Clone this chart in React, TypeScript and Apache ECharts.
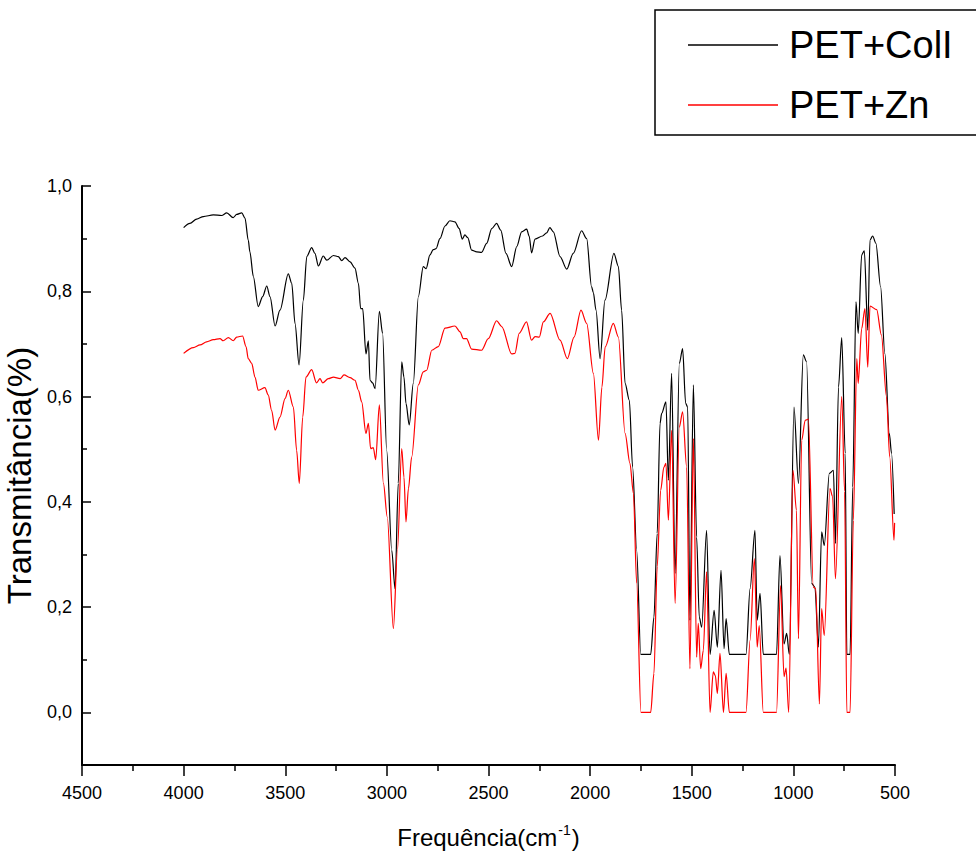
import React, { useEffect, useRef } from "react";
import * as echarts from "echarts";

// Wavenumber (cm-1) and transmittance
const collWavenumber = [
  4000, 3969, 3936, 3903, 3854, 3813, 3788, 3756, 3739, 3714, 3698, 3682, 3674, 3657, 3633, 3611, 3591, 3575,
  3550, 3526, 3485, 3468, 3452, 3432, 3411, 3394, 3370, 3354, 3337, 3313, 3296, 3263, 3239, 3222, 3206, 3181,
  3157, 3140, 3129, 3119, 3103, 3091, 3083, 3070, 3058, 3037, 3021, 3001, 2976, 2960, 2944, 2927, 2916, 2906,
  2890, 2870, 2845, 2821, 2807, 2788, 2772, 2758, 2739, 2714, 2690, 2665, 2644, 2629, 2616, 2602, 2583, 2558,
  2534, 2509, 2484, 2460, 2440, 2414, 2386, 2361, 2337, 2312, 2300, 2288, 2271, 2234, 2214, 2198, 2181, 2148,
  2115, 2083, 2042, 2017, 1993, 1984, 1971, 1951, 1927, 1883, 1861, 1845, 1828, 1807, 1791, 1771, 1751, 1702,
  1686, 1670, 1656, 1648, 1627, 1615, 1599, 1582, 1561, 1545, 1530, 1520, 1509, 1492, 1476, 1463, 1451, 1427,
  1410, 1390, 1374, 1356, 1341, 1331, 1315, 1233, 1213, 1189, 1178, 1164, 1148, 1083, 1066, 1046, 1033, 1020,
  997, 975, 951, 935, 910, 894, 877, 861, 848, 823, 803, 793, 778, 762, 745, 737, 721, 708, 692, 681, 664, 651,
  634, 623, 610, 594, 571, 550, 528, 517, 504,
];
const collTransmittance = [
  0.921, 0.929, 0.937, 0.942, 0.945, 0.944, 0.949, 0.94, 0.946, 0.949, 0.939, 0.897, 0.875, 0.828, 0.771, 0.79,
  0.81, 0.79, 0.734, 0.764, 0.833, 0.815, 0.739, 0.66, 0.783, 0.866, 0.883, 0.872, 0.848, 0.867, 0.859, 0.868,
  0.866, 0.858, 0.864, 0.856, 0.844, 0.815, 0.767, 0.767, 0.681, 0.706, 0.631, 0.626, 0.615, 0.762, 0.72, 0.498,
  0.308, 0.235, 0.435, 0.666, 0.637, 0.587, 0.546, 0.625, 0.79, 0.847, 0.843, 0.869, 0.879, 0.881, 0.9, 0.924,
  0.934, 0.932, 0.919, 0.899, 0.907, 0.902, 0.878, 0.875, 0.874, 0.891, 0.919, 0.929, 0.916, 0.872, 0.847, 0.885,
  0.913, 0.918, 0.905, 0.873, 0.899, 0.905, 0.911, 0.921, 0.913, 0.866, 0.842, 0.872, 0.915, 0.9, 0.809, 0.797,
  0.764, 0.672, 0.783, 0.872, 0.847, 0.764, 0.625, 0.593, 0.466, 0.308, 0.11, 0.11, 0.181, 0.34, 0.549, 0.568,
  0.59, 0.441, 0.644, 0.264, 0.663, 0.691, 0.587, 0.58, 0.175, 0.622, 0.333, 0.181, 0.162, 0.346, 0.11, 0.194,
  0.124, 0.27, 0.121, 0.178, 0.11, 0.11, 0.235, 0.346, 0.175, 0.226, 0.11, 0.11, 0.298, 0.13, 0.15, 0.11, 0.58,
  0.435, 0.679, 0.666, 0.245, 0.238, 0.124, 0.343, 0.317, 0.454, 0.46, 0.321, 0.618, 0.712, 0.492, 0.11, 0.11,
  0.428, 0.78, 0.72, 0.869, 0.877, 0.726, 0.897, 0.905, 0.891, 0.809, 0.682, 0.53, 0.492, 0.377,
];

const znWavenumber = [
  4000, 3952, 3919, 3887, 3854, 3821, 3805, 3780, 3756, 3739, 3710, 3693, 3682, 3665, 3649, 3633, 3600, 3584,
  3567, 3550, 3526, 3501, 3485, 3460, 3444, 3431, 3414, 3398, 3370, 3346, 3329, 3316, 3288, 3263, 3230, 3211,
  3181, 3157, 3140, 3124, 3103, 3091, 3080, 3067, 3055, 3037, 3017, 2998, 2968, 2948, 2927, 2916, 2906, 2894,
  2878, 2845, 2821, 2804, 2779, 2747, 2714, 2665, 2640, 2624, 2608, 2583, 2534, 2501, 2460, 2435, 2386, 2370,
  2349, 2313, 2288, 2271, 2250, 2230, 2197, 2148, 2112, 2079, 2045, 2017, 1984, 1959, 1942, 1926, 1886, 1861,
  1828, 1804, 1787, 1771, 1750, 1702, 1686, 1670, 1653, 1637, 1627, 1615, 1599, 1582, 1561, 1545, 1525, 1509,
  1492, 1476, 1468, 1456, 1443, 1427, 1410, 1394, 1384, 1374, 1361, 1344, 1331, 1315, 1233, 1213, 1192, 1178,
  1168, 1148, 1083, 1063, 1046, 1036, 1023, 1002, 985, 975, 959, 942, 926, 902, 890, 872, 861, 848, 820, 807,
  793, 762, 748, 737, 721, 705, 688, 681, 664, 648, 634, 623, 590, 567, 542, 526, 505, 502,
];
const znTransmittance = [
  0.682, 0.693, 0.698, 0.704, 0.708, 0.71, 0.706, 0.712, 0.706, 0.713, 0.715, 0.695, 0.672, 0.663, 0.637, 0.612,
  0.617, 0.603, 0.574, 0.536, 0.561, 0.596, 0.612, 0.58, 0.498, 0.435, 0.561, 0.637, 0.651, 0.626, 0.634, 0.626,
  0.634, 0.637, 0.634, 0.641, 0.636, 0.631, 0.612, 0.59, 0.53, 0.549, 0.501, 0.503, 0.48, 0.584, 0.435, 0.371,
  0.159, 0.308, 0.501, 0.447, 0.362, 0.425, 0.485, 0.622, 0.647, 0.65, 0.688, 0.695, 0.73, 0.734, 0.723, 0.71,
  0.71, 0.69, 0.688, 0.71, 0.744, 0.733, 0.681, 0.682, 0.72, 0.742, 0.707, 0.714, 0.713, 0.742, 0.758, 0.707,
  0.672, 0.713, 0.764, 0.739, 0.644, 0.517, 0.618, 0.694, 0.739, 0.713, 0.53, 0.473, 0.416, 0.245, 0.0, 0.0,
  0.074, 0.277, 0.422, 0.466, 0.473, 0.365, 0.536, 0.207, 0.542, 0.571, 0.466, 0.083, 0.52, 0.105, 0.169, 0.083,
  0.118, 0.267, 0.0, 0.077, 0.07, 0.036, 0.112, 0.0, 0.074, 0.0, 0.0, 0.137, 0.292, 0.124, 0.165, 0.0, 0.0,
  0.241, 0.068, 0.084, 0.0, 0.46, 0.384, 0.14, 0.517, 0.555, 0.557, 0.238, 0.235, 0.016, 0.197, 0.146, 0.425,
  0.41, 0.254, 0.6, 0.42, 0.0, 0.0, 0.365, 0.672, 0.625, 0.729, 0.767, 0.656, 0.772, 0.765, 0.717, 0.6, 0.485,
  0.327, 0.36,
];

const seriesNames = ["PET+ColI", "PET+Zn"];
const seriesColors = ["#000000", "#ff0000"];
const yMajorTicks = [0, 0.2, 0.4, 0.6, 0.8, 1.0];
const yMinorTicks = [0.1, 0.3, 0.5, 0.7, 0.9];

const FONT = "'Liberation Sans', Arial, sans-serif";

export default function App() {
  const ref = useRef<HTMLDivElement>(null);

  useEffect(() => {
    if (!ref.current) return;
    const chart = echarts.init(ref.current, null, { renderer: "svg" });
    const collData = collWavenumber.map((w, i) => [w, collTransmittance[i]]);
    const znData = znWavenumber.map((w, i) => [w, znTransmittance[i]]);

    const yBase = {
      type: "value",
      min: -0.1,
      max: 1.0,
      interval: 0.1,
      position: "left",
      splitLine: { show: false },
    };

    chart.setOption({
      animation: false,
      backgroundColor: "#ffffff",
      textStyle: { fontFamily: FONT },
      legend: {
        orient: "vertical",
        left: 655,
        top: 10,
        padding: [15, 40, 10, 33],
        itemWidth: 90,
        itemHeight: 1.5,
        itemGap: 20,
        icon: "rect",
        borderColor: "#000",
        borderWidth: 1.5,
        data: seriesNames,
        textStyle: {
          fontSize: 38,
          lineHeight: 40,
          color: "#000",
          fontFamily: FONT,
          padding: [0, 0, 0, 6],
        },
      },
      grid: {
        left: 82,
        right: 81,
        top: 186,
        bottom: 101,
        containLabel: false,
        outerBoundsMode: "none",
      },
      xAxis: {
        type: "value",
        inverse: true,
        min: 500,
        max: 4500,
        interval: 500,
        name: "Frequência(cm{sup|-1})",
        nameLocation: "middle",
        nameGap: 58,
        nameTextStyle: {
          fontSize: 24,
          color: "#000",
          fontFamily: FONT,
          rich: {
            sup: { fontSize: 14, verticalAlign: "top", padding: [0, 1, 14, 1], color: "#000" },
          },
        },
        axisLine: { onZero: false, lineStyle: { color: "#000", width: 2 } },
        axisTick: { length: 11, lineStyle: { color: "#000", width: 1.5 } },
        minorTick: { show: true, splitNumber: 2, length: 6, lineStyle: { color: "#000", width: 1.5 } },
        axisLabel: {
          margin: 19,
          fontSize: 18,
          color: "#000",
          fontFamily: FONT,
          formatter: (v: number) => String(Math.round(v)),
        },
        splitLine: { show: false },
        minorSplitLine: { show: false },
      },
      yAxis: [
        {
          ...yBase,
          name: "Transmitância(%)",
          nameLocation: "middle",
          nameGap: 29,
          nameTextStyle: { fontSize: 33, color: "#000", fontFamily: FONT },
          axisLine: { show: true, onZero: false, lineStyle: { color: "#000", width: 2 } },
          axisTick: {
            show: true,
            inside: true,
            length: 9,
            customValues: yMajorTicks,
            lineStyle: { color: "#000", width: 1.5 },
          },
          axisLabel: {
            margin: 10,
            fontSize: 18,
            color: "#000",
            fontFamily: FONT,
            customValues: yMajorTicks,
            formatter: (v: number) => v.toFixed(1).replace(".", ","),
          },
        },
        {
          ...yBase,
          axisLine: { show: false, onZero: false },
          axisLabel: { show: false },
          axisTick: {
            show: true,
            inside: true,
            length: 5,
            customValues: yMinorTicks,
            lineStyle: { color: "#000", width: 1.5 },
          },
        },
      ],
      series: [
        {
          name: seriesNames[0],
          type: "line",
          yAxisIndex: 0,
          data: collData,
          symbol: "none",
          smooth: 0.3,
          smoothMonotone: "x",
          lineStyle: { color: seriesColors[0], width: 1.2 },
          itemStyle: { color: seriesColors[0] },
        },
        {
          name: seriesNames[1],
          type: "line",
          yAxisIndex: 0,
          data: znData,
          symbol: "none",
          smooth: 0.3,
          smoothMonotone: "x",
          lineStyle: { color: seriesColors[1], width: 1.2 },
          itemStyle: { color: seriesColors[1] },
        },
      ],
    });
    return () => chart.dispose();
  }, []);

  return (
    <div
      ref={ref}
      style={{ position: "fixed", left: 0, top: 0, width: 976, height: 866, background: "#fff" }}
    />
  );
}
